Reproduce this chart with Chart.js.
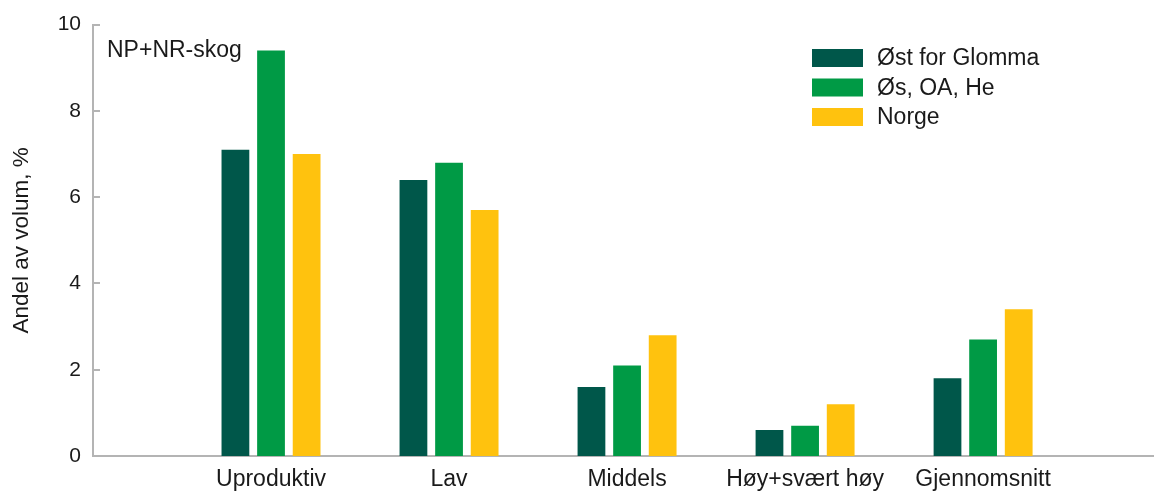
<!DOCTYPE html>
<html>
<head>
<meta charset="utf-8">
<script src="https://cdn.jsdelivr.net/npm/chart.js@4"></script>
<style>
  html, body { margin: 0; padding: 0; background: #fff; }
  #wrap { width: 1154px; height: 494px; }
</style>
</head>
<body>
<div id="wrap"><canvas id="chart"></canvas></div>
<script>
const categories = ['Uproduktiv', 'Lav', 'Middels', 'Høy+svært høy', 'Gjennomsnitt'];
const seriesNames = ['Øst for Glomma', 'Øs, OA, He', 'Norge'];
const ostForGlomma = [7.1, 6.4, 1.6, 0.6, 1.8];
const osOaHe = [9.4, 6.8, 2.1, 0.7, 2.7];
const norge = [7.0, 5.7, 2.8, 1.2, 3.4];
const yTicks = [0, 2, 4, 6, 8, 10];
const colors = ['#00574a', '#009a45', '#ffc20e'];

const FONT = '"Liberation Sans", Arial, sans-serif';
const AXIS = '#b4b4b4';

// posisjon 1..5 på lineær x-akse, så aksen kan gå forbi siste gruppe
const toPoints = vals => vals.map((v, i) => ({ x: i + 1, y: v }));

const extras = {
  id: 'extras',
  afterDraw(chart) {
    const ctx = chart.ctx;
    const y = chart.scales.y;
    const area = chart.chartArea;
    ctx.save();
    // korte tick-streker innover fra y-aksen
    ctx.strokeStyle = AXIS;
    ctx.lineWidth = 2;
    yTicks.forEach(t => {
      const py = Math.round(y.getPixelForValue(t));
      ctx.beginPath();
      ctx.moveTo(area.left, py);
      ctx.lineTo(area.left + 7, py);
      ctx.stroke();
    });
    // etikett oppe til venstre
    ctx.fillStyle = '#1a1a1a';
    ctx.font = '23px ' + FONT;
    ctx.textBaseline = 'middle';
    ctx.fillText('NP+NR-skog', 107, 51);
    // legende
    chart.data.datasets.forEach((ds, i) => {
      const top = 49 + i * 29.5;
      ctx.fillStyle = ds.backgroundColor;
      ctx.fillRect(812, top, 51, 18);
      ctx.fillStyle = '#1a1a1a';
      ctx.fillText(ds.label, 877, top + 10);
    });
    ctx.restore();
  }
};

new Chart(document.getElementById('chart'), {
  type: 'bar',
  data: {
    datasets: [
      { label: seriesNames[0], data: toPoints(ostForGlomma), backgroundColor: colors[0] },
      { label: seriesNames[1], data: toPoints(osOaHe), backgroundColor: colors[1] },
      { label: seriesNames[2], data: toPoints(norge), backgroundColor: colors[2] }
    ]
  },
  options: {
    responsive: true,
    maintainAspectRatio: false,
    animation: false,
    categoryPercentage: 0.6,
    barPercentage: 0.78,
    layout: { padding: { top: 24, right: 0, left: 0, bottom: 0 } },
    plugins: {
      legend: { display: false },
      tooltip: { enabled: false }
    },
    scales: {
      x: {
        type: 'linear',
        min: 0,
        max: 5.96,
        offset: false,
        grid: { display: false, drawTicks: false, offset: false },
        border: { color: AXIS, width: 2 },
        ticks: {
          stepSize: 1,
          includeBounds: false,
          autoSkip: false,
          maxRotation: 0,
          padding: 10,
          color: '#1a1a1a',
          font: { family: FONT, size: 23 },
          callback: v => categories[v - 1] || ''
        },
        afterFit: s => { s.height = 38; }
      },
      y: {
        min: 0,
        max: 10,
        grid: { display: false, drawTicks: false },
        border: { color: AXIS, width: 2 },
        ticks: {
          stepSize: 2,
          padding: 12,
          color: '#1a1a1a',
          font: { family: FONT, size: 21 }
        },
        title: {
          display: true,
          text: 'Andel av volum, %',
          color: '#1a1a1a',
          font: { family: FONT, size: 22.5 },
          padding: { top: 8, bottom: 0 }
        },
        afterFit: s => { s.width = 93; }
      }
    }
  },
  plugins: [extras]
});
</script>
</body>
</html>
